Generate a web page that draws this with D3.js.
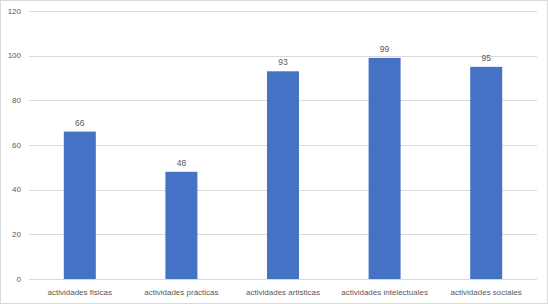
<!DOCTYPE html>
<html>
<head>
<meta charset="utf-8">
<script src="https://cdn.jsdelivr.net/npm/d3@7"></script>
<style>
  body { margin: 0; background: #fff; }
  text { font-family: "Liberation Sans", Arial, sans-serif; fill: #595959; }
</style>
</head>
<body>
<svg id="chart" width="548" height="304"></svg>
<script>
const categories = ['actividades fisicas', 'actividades prácticas', 'actividades artisticas', 'actividades intelectuales', 'actividades sociales'];
const values = [66, 48, 93, 99, 95];
const yTicks = [0, 20, 40, 60, 80, 100, 120];

const W = 548, H = 304;
const margin = {left: 29, right: 11, top: 11, bottom: 25};

const svg = d3.select('#chart');

// chart border
svg.append('rect')
    .attr('x', 0.5).attr('y', 0.5)
    .attr('width', W - 1).attr('height', H - 1)
    .attr('fill', '#fff')
    .attr('stroke', '#d9d9d9');

const x = d3.scaleBand()
    .domain(categories)
    .range([margin.left, W - margin.right])
    .paddingInner(0.685)
    .paddingOuter(0.3425);

const y = d3.scaleLinear()
    .domain([0, 120])
    .range([H - margin.bottom, margin.top]);

// gridlines
svg.append('g')
    .selectAll('line')
    .data(yTicks)
    .join('line')
    .attr('x1', margin.left).attr('x2', W - margin.right)
    .attr('y1', d => Math.round(y(d)) + 0.5)
    .attr('y2', d => Math.round(y(d)) + 0.5)
    .attr('stroke', '#d9d9d9');

// y tick labels
svg.append('g')
    .selectAll('text')
    .data(yTicks)
    .join('text')
    .attr('x', 21)
    .attr('y', d => y(d))
    .attr('dy', '0.35em')
    .attr('text-anchor', 'end')
    .attr('font-size', 8)
    .text(d => d);

// bars
svg.append('g')
    .selectAll('rect')
    .data(values)
    .join('rect')
    .attr('x', (d, i) => x(categories[i]))
    .attr('width', x.bandwidth())
    .attr('y', d => y(d))
    .attr('height', d => y(0) - y(d))
    .attr('fill', '#4472c4');

// data labels
svg.append('g')
    .selectAll('text')
    .data(values)
    .join('text')
    .attr('x', (d, i) => x(categories[i]) + x.bandwidth() / 2)
    .attr('y', d => y(d) - 6)
    .attr('text-anchor', 'middle')
    .attr('font-size', 8.5)
    .text(d => d);

// category labels
svg.append('g')
    .selectAll('text')
    .data(categories)
    .join('text')
    .attr('x', d => x(d) + x.bandwidth() / 2)
    .attr('y', H - 9)
    .attr('text-anchor', 'middle')
    .attr('font-size', 8)
    .text(d => d);
</script>
</body>
</html>
